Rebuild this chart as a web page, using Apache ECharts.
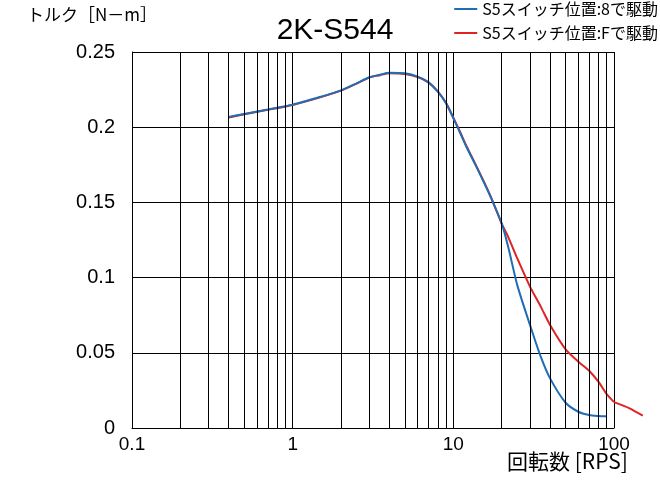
<!DOCTYPE html>
<html>
<head>
<meta charset="utf-8">
<script src="https://cdn.jsdelivr.net/npm/echarts@6/dist/echarts.min.js"></script>
<style>
  html, body { margin: 0; padding: 0; background: #fff; }
  #chart { width: 660px; height: 480px; }
</style>
</head>
<body>
<div id="chart"></div>
<script>
// 回転数 [RPS] / トルク [N-m]
const rpsBlue = [0.4, 0.5, 0.7, 1, 1.5, 2, 2.5, 3, 3.5, 4, 5, 6, 7, 8, 9, 10, 11, 12, 13, 15, 17, 20, 22, 25, 30, 35, 40, 50, 60, 70, 80, 90]
const torqueBlue = [0.2068, 0.2088, 0.2118, 0.2150, 0.2203, 0.2245, 0.2292, 0.2332, 0.2349, 0.2362, 0.2358, 0.2336, 0.2298, 0.2236, 0.2159, 0.2060, 0.1965, 0.1875, 0.1800, 0.1665, 0.1540, 0.1360, 0.1200, 0.0950, 0.0685, 0.0474, 0.0330, 0.0168, 0.0108, 0.0086, 0.0080, 0.0078]

const rpsRed = [0.4, 0.5, 0.7, 1, 1.5, 2, 2.5, 3, 3.5, 4, 5, 6, 7, 8, 9, 10, 11, 12, 13, 15, 17, 20, 22, 25, 30, 35, 40, 50, 60, 70, 80, 90, 100, 125, 151]
const torqueRed = [0.2065, 0.2086, 0.2116, 0.2148, 0.2200, 0.2243, 0.2290, 0.2330, 0.2346, 0.2358, 0.2354, 0.2334, 0.2298, 0.2238, 0.2162, 0.2063, 0.1970, 0.1880, 0.1805, 0.1670, 0.1545, 0.1358, 0.1268, 0.1128, 0.0940, 0.0807, 0.0685, 0.0523, 0.0441, 0.0381, 0.0308, 0.0226, 0.0172, 0.0131, 0.0082]

// 補助目盛 (2〜9)
const minorTicks = [0.2, 0.3, 0.4, 0.5, 0.6, 0.7, 0.8, 0.9, 2, 3, 4, 5, 6, 7, 8, 9, 20, 30, 40, 50, 60, 70, 80, 90]

const legendNames = ['S5スイッチ位置:8で駆動', 'S5スイッチ位置:Fで駆動']

const chart = echarts.init(document.getElementById('chart'))

const latin = '"Liberation Sans", Arial, sans-serif'
const jp = '"Noto Sans CJK JP", sans-serif'

const toPairs = (xs, ys) => xs.map((x, i) => [x, ys[i]])

// プロット領域
const plot = { left: 132, right: 46, top: 52, bottom: 52 }
const decadeWidth = (660 - plot.left - plot.right) / 3
const xMin = 0.1
const xMax = 100

// 赤線は100 RPSより右へはみ出すので、続きは右余白に置いた隠し軸で描く
// (同じ1桁あたりの幅になるよう、隠し軸の上限を余白幅から決める)
const tailMax = xMax * Math.pow(10, plot.right / decadeWidth)
const redPairs = toPairs(rpsRed, torqueRed)
const redMain = redPairs.filter(p => p[0] <= xMax)
const redTail = redPairs.filter(p => p[0] >= xMax)

const option = {
  animation: false,
  title: [
    {
      text: '2K-S544',
      left: 330,
      top: 11,
      textAlign: 'center',
      textStyle: { fontFamily: latin, fontSize: 30, fontWeight: 'normal', color: '#000' }
    },
    {
      text: 'トルク［N－m］',
      left: 22,
      top: 1,
      textStyle: { fontFamily: jp, fontSize: 17, fontWeight: 'normal', color: '#000' }
    },
    {
      text: '回転数 [RPS]',
      left: 502,
      top: 446,
      textStyle: { fontFamily: jp, fontSize: 21, fontWeight: 'normal', color: '#000' }
    }
  ],
  legend: {
    data: legendNames,
    orient: 'vertical',
    right: 2,
    top: 1,
    padding: 0,
    icon: 'rect',
    itemWidth: 23,
    itemHeight: 2,
    itemGap: 8,
    textStyle: { fontFamily: jp, fontSize: 16, color: '#000', lineHeight: 16 }
  },
  grid: [
    { ...plot },
    { left: 660 - plot.right, right: 0, top: plot.top, bottom: plot.bottom }
  ],
  xAxis: [
    {
      type: 'log',
      logBase: 10,
      min: xMin,
      max: xMax,
      axisLine: { show: true, lineStyle: { color: '#000', width: 1 } },
      axisTick: { show: false },
      axisLabel: { color: '#000', fontFamily: latin, fontSize: 19, margin: 7 },
      splitLine: { show: true, lineStyle: { color: '#000', width: 1 } }
    },
    {
      type: 'log',
      logBase: 10,
      gridIndex: 1,
      min: xMax,
      max: tailMax,
      show: false
    }
  ],
  yAxis: [
    {
      type: 'value',
      min: 0,
      max: 0.25,
      interval: 0.05,
      axisLine: { show: true, lineStyle: { color: '#000', width: 1 } },
      axisTick: { show: false },
      axisLabel: { color: '#000', fontFamily: latin, fontSize: 20, margin: 17 },
      splitLine: { show: true, lineStyle: { color: '#000', width: 1 } }
    },
    {
      type: 'value',
      gridIndex: 1,
      min: 0,
      max: 0.25,
      show: false
    }
  ],
  series: [
    {
      name: 'minor',
      type: 'line',
      data: [],
      z: 1,
      markLine: {
        silent: true,
        symbol: ['none', 'none'],
        label: { show: false },
        lineStyle: { color: '#000', width: 1, type: 'solid' },
        data: minorTicks.map(v => ({ xAxis: v }))
      }
    },
    {
      name: legendNames[1],
      type: 'line',
      z: 3,
      data: redMain,
      showSymbol: false,
      smooth: 0.25,
      lineStyle: { color: '#e02222', width: 2 },
      itemStyle: { color: '#e02222' }
    },
    {
      name: legendNames[1],
      type: 'line',
      xAxisIndex: 1,
      yAxisIndex: 1,
      z: 3,
      data: redTail,
      showSymbol: false,
      smooth: 0.25,
      lineStyle: { color: '#e02222', width: 2 },
      itemStyle: { color: '#e02222' }
    },
    {
      name: legendNames[0],
      type: 'line',
      z: 4,
      data: toPairs(rpsBlue, torqueBlue),
      showSymbol: false,
      smooth: 0.25,
      lineStyle: { color: '#1f6db4', width: 2 },
      itemStyle: { color: '#1f6db4' }
    }
  ]
}

chart.setOption(option)
</script>
</body>
</html>
